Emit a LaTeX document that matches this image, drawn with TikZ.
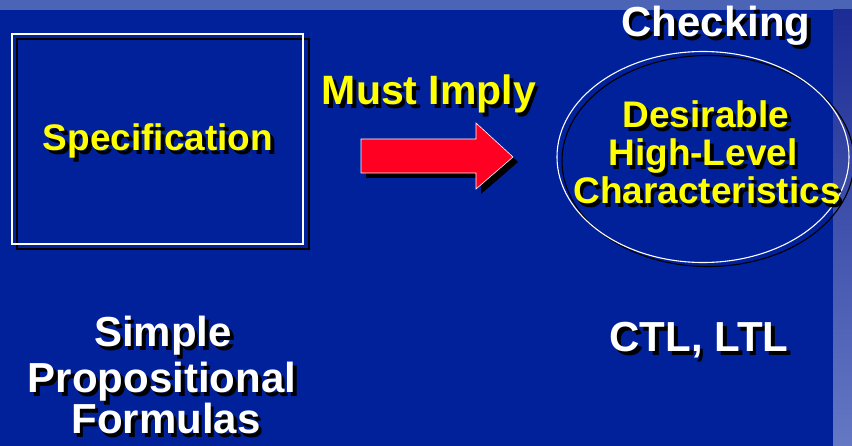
\documentclass[tikz,border=0pt]{standalone}
\usepackage{fontspec}
\setmainfont{Liberation Sans}
\usetikzlibrary{calc}
\definecolor{slidebg}{HTML}{00219A}
\definecolor{stripcol}{HTML}{4C64B6}
\definecolor{striptop}{HTML}{1C2C95}
\definecolor{stripbot}{HTML}{6478C4}
\definecolor{hiyellow}{HTML}{FFFF00}
\definecolor{arrowred}{HTML}{FF0022}
% text with a black drop shadow behind it
\newcommand\dropshadowed[1]{\leavevmode\rlap{\kern3.5pt\raisebox{-4pt}{\color{black}#1}}#1}
\tikzset{
  yellowtxt/.style={text=hiyellow, font=\bfseries\fontsize{37}{38}\selectfont, inner sep=0pt, anchor=base},
  bigyellow/.style={text=hiyellow, font=\bfseries\fontsize{41}{44}\selectfont, inner sep=0pt, anchor=base},
  whitetxt/.style={text=white, font=\bfseries\fontsize{42}{44}\selectfont, inner sep=0pt, anchor=base},
  outline/.style={draw=white, line width=1.1pt},
  shadowline/.style={draw=black, line width=1.1pt},
}
\begin{document}
\begin{tikzpicture}[x=1pt,y=-1pt]
% background
\fill[slidebg] (0,0) rectangle (852,446);
\useasboundingbox (0,0) rectangle (852,446);
\fill[stripcol] (0,0) rectangle (852,10);
\shade[top color=striptop, bottom color=stripbot] (833,10) rectangle (852,446);

% specification box
\draw[shadowline] (17,39) rectangle (309,249);
\draw[outline] (12,34) rectangle (303,244);
\node[yellowtxt] (spec) at (158,151) {\dropshadowed{Specification}};

% implication arrow
\coordinate (arrowshift) at (5,5);
\fill[black] ($(361,139)+(arrowshift)$) -- ($(476,139)+(arrowshift)$) -- ($(476,123)+(arrowshift)$)
  -- ($(513,157)+(arrowshift)$) -- ($(476,189)+(arrowshift)$) -- ($(476,173)+(arrowshift)$)
  -- ($(361,173)+(arrowshift)$) -- cycle;
\filldraw[fill=arrowred, draw=white, line width=0.6pt] (361,139) -- (476,139) -- (476,123)
  -- (513,157) -- (476,189) -- (476,173) -- (361,173) -- cycle;
\node[bigyellow] (imply) at (429,105) {\dropshadowed{Must Imply}};

% checked property
\draw[shadowline] (708,161) ellipse [x radius=146, y radius=105.5];
\draw[outline] (703,157) ellipse [x radius=146, y radius=105.5];
\node[whitetxt] (check) at (716,37) {\dropshadowed{Checking}};
\node[yellowtxt] (desire1) at (706,128) {\dropshadowed{Desirable}};
\node[yellowtxt] (desire2) at (703,166) {\dropshadowed{High-Level}};
\node[yellowtxt] (desire3) at (707,204) {\dropshadowed{Characteristics}};

% formalisms
\node[whitetxt] (simple1) at (163,347) {\dropshadowed{Simple}};
\node[whitetxt] (simple2) at (162,392) {\dropshadowed{Propositional}};
\node[whitetxt] (simple3) at (166,434) {\dropshadowed{Formulas}};
\node[whitetxt] (temporal) at (699,352) {\dropshadowed{CTL, LTL}};
\end{tikzpicture}
\end{document}
